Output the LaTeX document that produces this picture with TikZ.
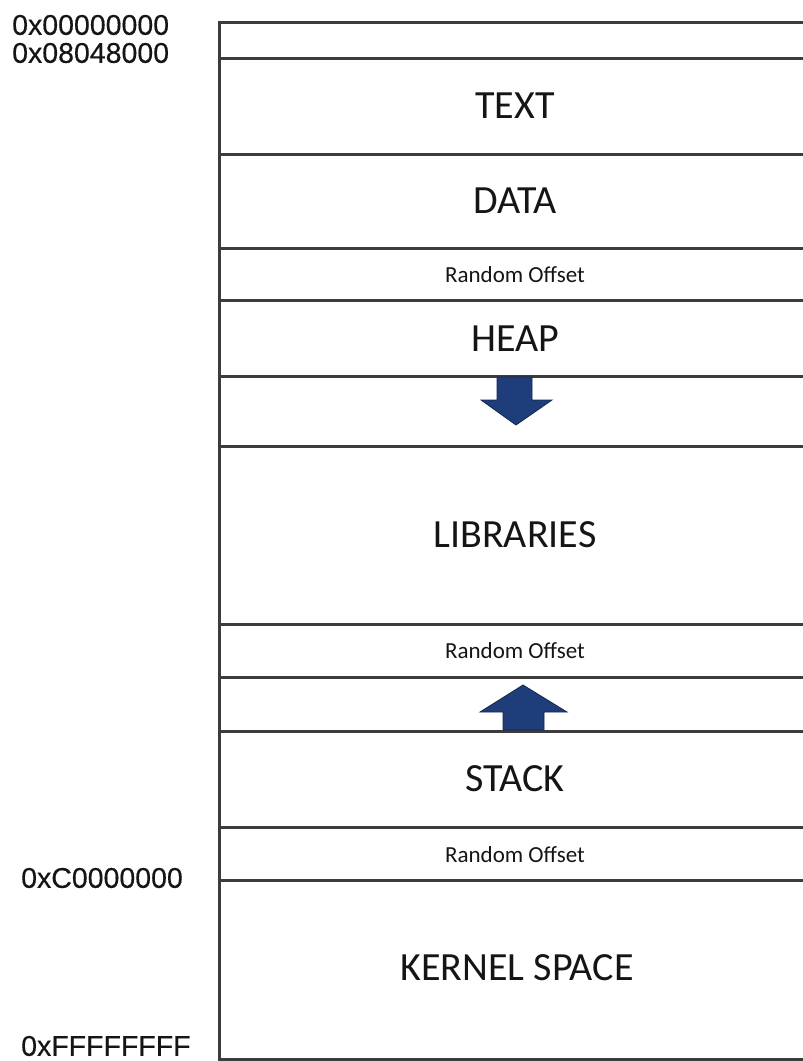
\documentclass[tikz,border=0pt]{standalone}
\usepackage{fontspec}
\setmainfont{Carlito}
\newfontfamily\addrfont[FakeBold=0.4]{Liberation Sans}
\definecolor{linegray}{HTML}{3C3C3C}
\definecolor{arrowblue}{HTML}{1F3D7A}
\definecolor{arrowedge}{HTML}{142850}
\definecolor{txt}{HTML}{151515}
\tikzset{
  ln/.style={draw=linegray, line width=3pt},
  big/.style={text=txt, inner sep=0pt, font=\fontsize{40}{46}\selectfont},
  small/.style={text=txt, inner sep=0pt, font=\fontsize{23}{27}\selectfont},
  addr/.style={text=txt, inner sep=0pt, anchor=west, font=\addrfont\fontsize{28.5}{32}\selectfont},
  growarrow/.style={fill=arrowblue, draw=arrowedge, line width=0.8pt, line join=miter}
}
\begin{document}
\begin{tikzpicture}[x=1pt,y=-1pt]
\useasboundingbox (0,0) rectangle (803,1061);
% horizontal boundaries
\foreach \yy in {22,58,154,248,300,376,446,624,677,731,827,880,1059}
  \draw[ln] (219,\yy) -- (803,\yy);
% left edge
\draw[ln] (219,20.5) -- (219,1060.5);
% region labels
\node[big] (text) at (515,106) {TEXT};
\node[big] (data) at (515,201) {DATA};
\node[small] (ro1) at (515,275) {Random Offset};
\node[big] (heap) at (515,339) {HEAP};
\node[big] (libs) at (515,535) {LIBRARIES};
\node[small] (ro2) at (515,651) {Random Offset};
\node[big] (stack) at (515,779) {STACK};
\node[small] (ro3) at (515,855) {Random Offset};
\node[big] (kernel) at (517,968) {KERNEL SPACE};
% addresses
\node[addr] (a0) at (12,25) {0x00000000};
\node[addr] (a1) at (12,53) {0x08048000};
\node[addr] (a2) at (21,878) {0xC0000000};
\node[addr] (a3) at (21,1046) {0xFFFFFFFF};
% growth arrows
\draw[growarrow] (497,377) -- (532,377) -- (532,400) -- (552,400) -- (516,425) -- (481,400) -- (497,400) -- cycle;
\draw[growarrow] (523,685) -- (567,712) -- (544,712) -- (544,730) -- (503,730) -- (503,712) -- (480,712) -- cycle;
\end{tikzpicture}
\end{document}
